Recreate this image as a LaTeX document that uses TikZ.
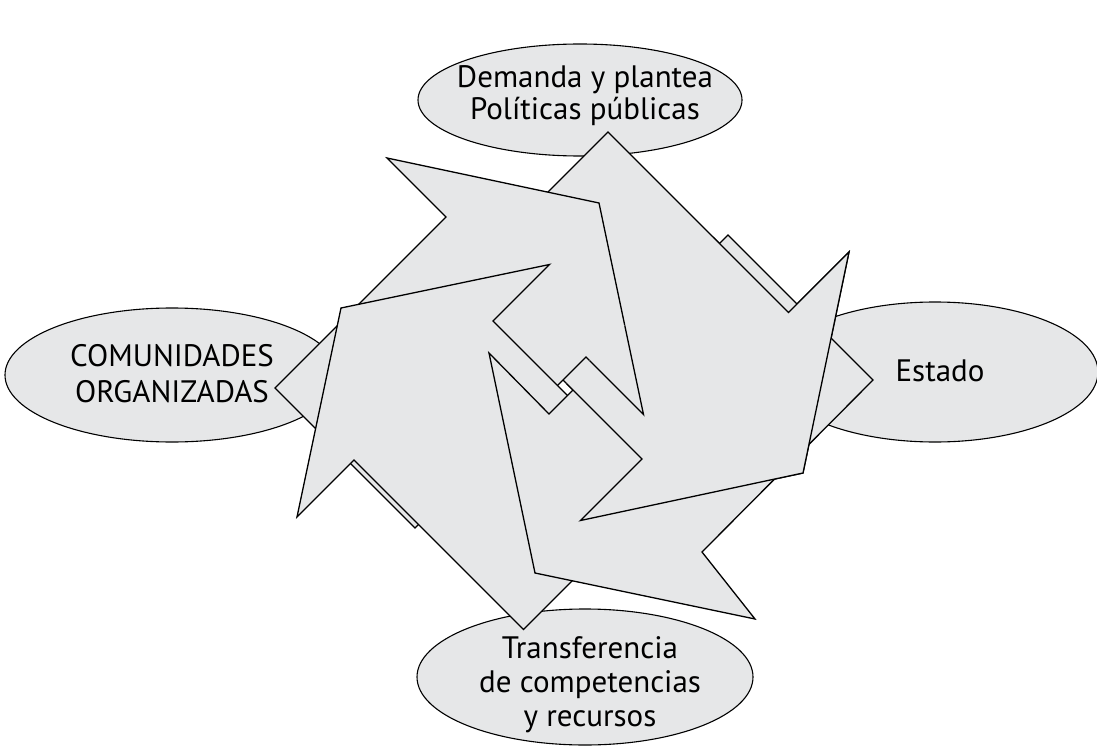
\documentclass[tikz,border=0pt]{standalone}
\usepackage{fontspec}
\setmainfont{PT Sans}
\usetikzlibrary{shapes.geometric}
\definecolor{fillgray}{HTML}{E6E7E8}
\begin{document}
\begin{tikzpicture}[x=1pt,y=-1pt,
  oval/.style={ellipse,draw=black,fill=fillgray,line width=1.1pt,inner sep=0pt},
  lbl/.style={align=center,inner sep=0pt,text=black},
  arrowshape/.style={draw=black,fill=fillgray,line width=1.3pt,line join=miter}]
\useasboundingbox (0,0) rectangle (1097,746);
\fill[white] (0,0) rectangle (1097,746);
% ellipses
\node[oval,minimum width=324pt,minimum height=112pt] (etop) at (580,100) {};
\node[oval,minimum width=334pt,minimum height=134pt] (eleft) at (172,375) {};
\node[oval,minimum width=326pt,minimum height=140pt] (eright) at (935,372) {};
\node[oval,minimum width=336pt,minimum height=136pt] (ebot) at (585,677) {};
% arrow A (top -> right)
\filldraw[arrowshape] (608,132) -- (788.5,312.5) -- (849,252) -- (803,473) -- (580.5,520.5) -- (642,459) -- (461.5,278.5) -- cycle;
% arrow B (left -> top)
\filldraw[arrowshape] (275,388) -- (446,217) -- (387,158) -- (599,203) -- (643.5,414.5) -- (586,357) -- (415,528) -- cycle;
% arrow C (bottom -> left)
\filldraw[arrowshape] (662.5,490.5) -- (493,321) -- (549.5,264.5) -- (341,308) -- (297,517) -- (354,460) -- (523.5,629.5) -- cycle;
% arrow D (right -> bottom)
\filldraw[arrowshape] (728,235) -- (549,414) -- (489,353) -- (535,573) -- (755,619) -- (702,552) -- (873,380) -- cycle;
% redraw A over D, then B's head over A
\begin{scope}
\clip (950,0) -- (1097,0) -- (1097,746) -- (204,746) -- cycle;
\filldraw[arrowshape] (608,132) -- (788.5,312.5) -- (849,252) -- (803,473) -- (580.5,520.5) -- (642,459) -- (461.5,278.5) -- cycle;
\filldraw[arrowshape] (275,388) -- (446,217) -- (387,158) -- (599,203) -- (643.5,414.5) -- (586,357) -- (415,528) -- cycle;
\end{scope}
% labels
\node[lbl,font=\fontsize{31}{32}\selectfont] (ttop) at (585,96) {Demanda y plantea\\Políticas públicas};
\node[lbl,font=\fontsize{31}{36}\selectfont] (tleft) at (172,374) {COMUNIDADES\\ORGANIZADAS};
\node[lbl,font=\fontsize{31}{34}\selectfont] (tright) at (940,371) {Estado};
\node[lbl,font=\fontsize{31}{34}\selectfont] (tbot) at (590,685) {Transferencia\\de competencias\\y recursos};
\end{tikzpicture}
\end{document}
